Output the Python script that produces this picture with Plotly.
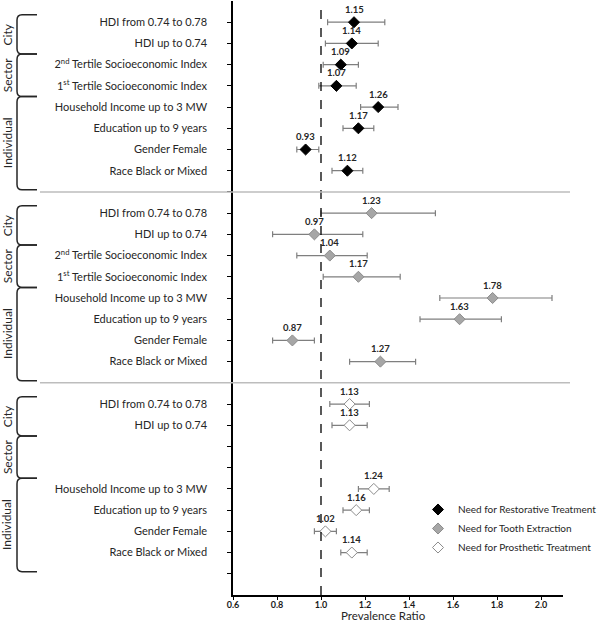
import plotly.graph_objects as go

# ---------------- data ----------------
categories = ["HDI from 0.74 to 0.78", "HDI up to 0.74",
              "2<sup>nd</sup> Tertile Socioeconomic Index",
              "1<sup>st</sup> Tertile Socioeconomic Index",
              "Household Income up to 3 MW", "Education up to 9 years",
              "Gender Female", "Race Black or Mixed"]
groups = ["City", "Sector", "Individual"]

restorative = [1.15, 1.14, 1.09, 1.07, 1.26, 1.17, 0.93, 1.12]
rest_lo = [1.03, 1.02, 1.01, 0.99, 1.18, 1.10, 0.89, 1.05]
rest_hi = [1.29, 1.26, 1.17, 1.16, 1.35, 1.24, 0.99, 1.19]

extraction = [1.23, 0.97, 1.04, 1.17, 1.78, 1.63, 0.87, 1.27]
ext_lo = [1.00, 0.78, 0.89, 1.01, 1.54, 1.45, 0.78, 1.13]
ext_hi = [1.52, 1.19, 1.21, 1.36, 2.05, 1.82, 0.97, 1.43]

prosthetic = [1.13, 1.13, None, None, 1.24, 1.16, 1.02, 1.14]
pros_lo = [1.04, 1.05, None, None, 1.17, 1.10, 0.97, 1.09]
pros_hi = [1.22, 1.21, None, None, 1.31, 1.22, 1.07, 1.21]

series_names = ["Need for Restorative Treatment", "Need for Tooth Extraction",
                "Need for Prosthetic Treatment"]
x_ticks = [0.6, 0.8, 1.0, 1.2, 1.4, 1.6, 1.8, 2.0]

# ---------------- layout helpers ----------------
W, H = 600, 621
ML, MR, MT, MB = 233, 37, 1, 26
PW = W - ML - MR
PH = H - MT - MB
NROW = len(categories) + 1  # rows per section incl. separator


def px2paper(p):
    return (p - ML) / PW


FONT = "Lato"
TXT = "#262626"

fig = go.Figure()

series = [
    (restorative, rest_lo, rest_hi, dict(color="black", line=dict(color="black", width=1))),
    (extraction, ext_lo, ext_hi, dict(color="#A6A6A6", line=dict(color="#8C8C8C", width=1))),
    (prosthetic, pros_lo, pros_hi, dict(color="white", line=dict(color="#8C8C8C", width=1))),
]

annotations = []
tickvals, ticktext = [], []
for s, (vals, lo, hi, mk) in enumerate(series):
    offset = s * NROW
    ys, xs, ep, em = [], [], [], []
    for i, v in enumerate(vals):
        if v is None:
            continue
        ys.append(offset + i)
        xs.append(v)
        ep.append(hi[i] - v)
        em.append(v - lo[i])
        annotations.append(dict(text="<b>%.2f</b>" % v, x=v, y=offset + i, xref="x", yref="y",
                                yshift=13, showarrow=False, xanchor="center", yanchor="middle",
                                font=dict(size=9.5, color=TXT, family=FONT)))
    for i in range(NROW):
        tickvals.append(offset + i)
        if i < len(categories) and vals[i] is not None:
            ticktext.append(categories[i])
        else:
            ticktext.append("")
    fig.add_trace(go.Scatter(
        x=xs, y=ys, mode="markers", name=series_names[s],
        marker=dict(symbol="diamond", size=8.5, **mk),
        error_x=dict(type="data", symmetric=False, array=ep, arrayminus=em,
                     color="#7F7F7F", thickness=1.2, width=3),
        cliponaxis=False,
    ))

shapes = []
# dashed reference line
shapes.append(dict(type="line", xref="x", yref="paper", x0=1.0, x1=1.0, y0=0, y1=1,
                   line=dict(color="black", width=1.3, dash="dash")))
# separators
for s in (1, 2):
    yv = s * NROW - 1
    shapes.append(dict(type="line", xref="paper", yref="y",
                       x0=px2paper(40), x1=px2paper(570), y0=yv, y1=yv,
                       line=dict(color="#BDBDBD", width=1.5)))

# brackets
bx_v = px2paper(17)
bx_e = px2paper(37)
r_x = px2paper(22) - bx_v
r_y = 0.25
spans = [(-0.35, 1.5), (1.5, 3.5), (3.5, 7.9)]
for s in range(3):
    off = s * NROW
    for g, (a, b) in enumerate(spans):
        y0, y1 = a + off, b + off
        path = (f"M {bx_e},{y0} L {bx_v + r_x},{y0} Q {bx_v},{y0} {bx_v},{y0 + r_y} "
                f"L {bx_v},{y1 - r_y} Q {bx_v},{y1} {bx_v + r_x},{y1} L {bx_e},{y1}")
        shapes.append(dict(type="path", xref="paper", yref="y", path=path,
                           line=dict(color="#262626", width=1.5)))
        annotations.append(dict(text=groups[g], xref="paper", yref="y",
                                x=px2paper(7), y=(y0 + y1) / 2, textangle=-90,
                                showarrow=False, xanchor="center", yanchor="middle",
                                font=dict(size=12, color=TXT, family=FONT)))

annotations.append(dict(text="Prevalence Ratio", xref="paper", yref="paper",
                        x=px2paper(383), y=0, yshift=-20, showarrow=False,
                        xanchor="center", yanchor="middle",
                        font=dict(size=11.5, color=TXT, family=FONT)))

fig.update_layout(
    width=W, height=H,
    margin=dict(l=ML, r=MR, t=MT, b=MB, autoexpand=False),
    paper_bgcolor="white", plot_bgcolor="white",
    font=dict(family=FONT, color=TXT, size=11),
    showlegend=True,
    legend=dict(x=px2paper(418), y=(H - MB - 495) / PH, xanchor="left", yanchor="top",
                bgcolor="rgba(0,0,0,0)", font=dict(size=10, color=TXT, family=FONT),
                tracegroupgap=0, itemsizing="trace"),
    shapes=shapes, annotations=annotations,
    xaxis=dict(range=[0.6, 2.1], tickvals=x_ticks,
               ticktext=["<b>%.1f</b>" % t for t in x_ticks],
               showgrid=False, zeroline=False, showline=True, linecolor="black", linewidth=1.5,
               ticks="outside", ticklen=3, tickcolor="black", automargin=False,
               ticklabelstandoff=-3,
               tickfont=dict(size=9, color="#1a1a1a", family=FONT)),
    yaxis=dict(range=[3 * NROW, -1], tickvals=tickvals, ticktext=ticktext,
               showgrid=False, zeroline=False, showline=True, linecolor="black", linewidth=1.5,
               ticks="outside", ticklen=4, tickcolor="black", ticklabelstandoff=18,
               automargin=False,
               tickfont=dict(size=11, color=TXT, family=FONT)),
)

fig.write_html("out.html", config={"displayModeBar": False},
               post_script="document.body.style.margin='0';document.body.style.padding='0';")
